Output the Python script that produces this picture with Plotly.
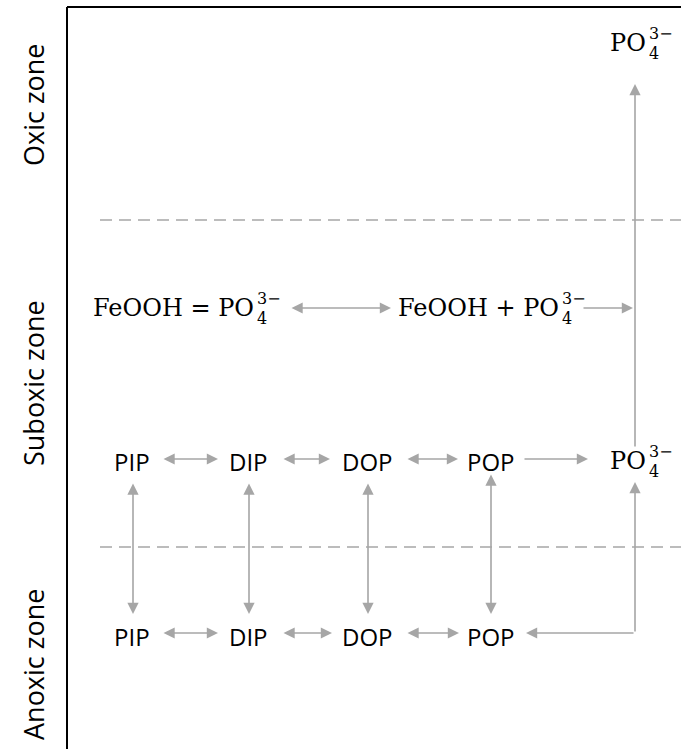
import plotly.graph_objects as go

W, H = 681, 749
GRAY = "#a6a6a6"
SANS = "Open Sans"
SERIF = "DejaVu Serif"

# zone labels (text, center y)
zone_labels = ["Oxic zone", "Suboxic zone", "Anoxic zone"]
zone_y = [105, 383, 665]
zone_x = 33

# dashed zone boundaries (y)
boundary_y = [220, 547]
boundary_x0 = 100

# sans-serif species nodes: label, x, y
node_labels = ["PIP", "DIP", "DOP", "POP", "PIP", "DIP", "DOP", "POP"]
node_x = [132, 248, 367, 491, 132, 248, 367, 491]
node_y = [461, 461, 461, 461, 636, 636, 636, 636]

# phosphate formulas: prefix, x of right edge of "PO", y centre
chem_prefix = ["", "FeOOH = ", "FeOOH + ", ""]
chem_x = [647, 255, 560, 647]
chem_y = [461, 308, 308, 43]

# arrows: x0, y0 (tail), x1, y1 (head), double-headed?
arr_x0 = [162, 282, 406, 523, 290, 582, 133, 249, 368, 491, 635, 635, 635, 162, 282, 406]
arr_y0 = [459, 459, 459, 459, 308, 308, 482, 482, 482, 473, 633, 633, 448, 633, 633, 633]
arr_x1 = [218, 330, 458, 588, 391, 633, 133, 249, 368, 491, 635, 526, 635, 218, 332, 459]
arr_y1 = [459, 459, 459, 459, 308, 308, 614, 614, 614, 614, 482, 633, 84, 633, 633, 633]
arr_dbl = [1, 1, 1, 0, 1, 0, 1, 1, 1, 1, 0, 0, 0, 1, 1, 1]

fig = go.Figure()
fig.add_trace(go.Scatter(x=[0, W], y=[0, H], mode="markers",
                         marker=dict(opacity=0), hoverinfo="skip", showlegend=False))

ann = []
for t, y in zip(zone_labels, zone_y):
    ann.append(dict(x=zone_x, y=y, text=t, textangle=-90, showarrow=False,
                    font=dict(family=SANS, size=27, color="black"),
                    xanchor="center", yanchor="middle"))

for t, x, y in zip(node_labels, node_x, node_y):
    ann.append(dict(x=x, y=y, text=t, showarrow=False,
                    font=dict(family=SANS, size=24, color="black"),
                    xanchor="center", yanchor="middle"))

for p, x, y in zip(chem_prefix, chem_x, chem_y):
    ann.append(dict(x=x, y=y, text=p + "PO", showarrow=False,
                    font=dict(family=SERIF, size=24, color="black"),
                    xanchor="right", yanchor="middle", xshift=1))
    ann.append(dict(x=x, y=y - 10, text="3\u2212", showarrow=False,
                    font=dict(family=SERIF, size=16, color="black"),
                    xanchor="left", yanchor="middle"))
    ann.append(dict(x=x, y=y + 10, text="4", showarrow=False,
                    font=dict(family=SERIF, size=16, color="black"),
                    xanchor="left", yanchor="middle"))

for x0, y0, x1, y1, d in zip(arr_x0, arr_y0, arr_x1, arr_y1, arr_dbl):
    a = dict(x=x1, y=y1, ax=x0, ay=y0, xref="x", yref="y", axref="x", ayref="y",
             text="", showarrow=True, arrowhead=2, arrowsize=1.4, arrowwidth=1.6,
             arrowcolor=GRAY, standoff=0, startstandoff=0)
    if d:
        a.update(arrowside="end+start", startarrowhead=2, startarrowsize=1.4)
    ann.append(a)

shapes = []
for y in boundary_y:
    shapes.append(dict(type="line", xref="x", yref="y", x0=boundary_x0, x1=W, y0=y, y1=y,
                       line=dict(color=GRAY, width=1.6, dash="12px,7px")))
# frame
shapes.append(dict(type="line", xref="x", yref="y", x0=67, x1=67, y0=7, y1=H,
                   line=dict(color="black", width=2)))
shapes.append(dict(type="line", xref="x", yref="y", x0=67, x1=W, y0=7, y1=7,
                   line=dict(color="black", width=2)))

fig.update_layout(
    width=W, height=H, margin=dict(l=0, r=0, t=0, b=0),
    paper_bgcolor="white", plot_bgcolor="white",
    xaxis=dict(range=[0, W], visible=False, fixedrange=True),
    yaxis=dict(range=[H, 0], visible=False, fixedrange=True),
    annotations=ann, shapes=shapes, showlegend=False,
)
fig.write_html("out.html", config={"displayModeBar": False},
               post_script="document.body.style.margin='0';document.body.style.overflow='hidden';")
